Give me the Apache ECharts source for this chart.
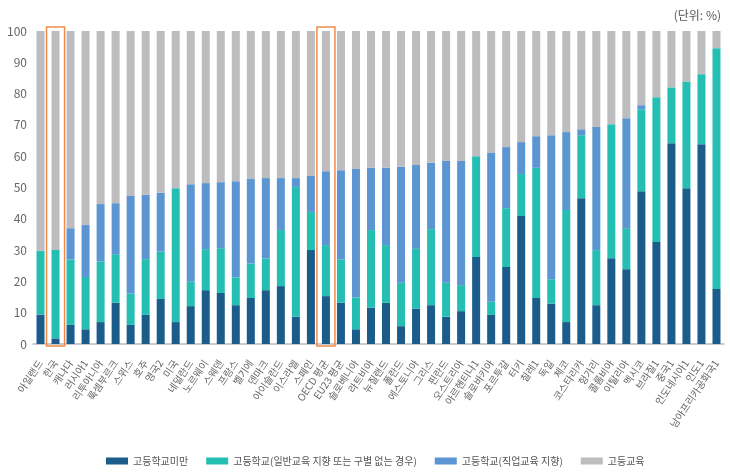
<!DOCTYPE html>
<html>
<head>
<meta charset="utf-8">
<script src="https://cdn.jsdelivr.net/npm/echarts@6/dist/echarts.min.js"></script>
<style>
  html, body { margin: 0; padding: 0; background: #fff; }
  #chart { width: 730px; height: 475px; }
</style>
</head>
<body>
<div id="chart"></div>
<script>
// 국가 목록
var countries = ["아일랜드", "한국", "캐나다", "러시아1", "리투아니아", "룩셈부르크", "스위스", "호주", "영국2", "미국",
  "네덜란드", "노르웨이", "스웨덴", "프랑스", "벨기에", "덴마크", "아이슬란드", "이스라엘", "스페인", "OECD 평균",
  "EU23 평균", "슬로베니아", "라트비아", "뉴질랜드", "폴란드", "에스토니아", "그리스", "핀란드", "오스트리아", "아르헨티나1",
  "슬로바키아", "포르투갈", "터키", "칠레1", "독일", "체코", "코스타리카", "헝가리", "콜롬비아", "이탈리아",
  "멕시코", "브라질1", "중국1", "인도네시아1", "인도1", "남아프리카공화국1"];

// 고등학교미만
var belowUpper = [9.4, 1.8, 6.1, 4.7, 7.0, 13.2, 6.1, 9.3, 14.4, 7.0,
  12.1, 17.2, 16.3, 12.4, 14.7, 17.2, 18.5, 8.7, 30.0, 15.3,
  13.2, 4.7, 11.6, 13.2, 5.7, 11.3, 12.4, 8.7, 10.5, 27.8,
  9.3, 24.6, 40.9, 14.7, 12.9, 7.0, 46.6, 12.4, 27.4, 23.9,
  48.8, 32.6, 64.1, 49.8, 63.8, 17.6];

// 고등학교(일반교육 지향 또는 구별 없는 경우)
var generalUpper = [20.4, 28.2, 20.9, 16.7, 19.4, 15.5, 10.1, 17.8, 15.1, 42.8,
  7.9, 13.1, 14.3, 8.9, 11.0, 10.1, 17.9, 41.5, 12.2, 16.3,
  13.8, 10.2, 24.8, 18.4, 13.9, 19.1, 24.3, 10.9, 8.3, 32.2,
  4.2, 18.8, 13.4, 41.6, 7.8, 35.8, 20.1, 17.6, 42.8, 13.1,
  26.2, 46.2, 17.9, 34.1, 22.4, 76.9];

// 고등학교(직업교육 지향)
var vocationalUpper = [0, 0, 10.0, 16.6, 18.3, 16.3, 31.1, 20.6, 18.8, 0,
  31.0, 21.1, 21.1, 30.7, 27.0, 25.7, 16.6, 2.8, 11.5, 23.6,
  28.5, 41.0, 19.9, 24.7, 37.0, 26.8, 21.2, 38.9, 39.7, 0,
  47.5, 19.5, 10.2, 10.1, 46.0, 24.9, 1.9, 39.3, 0, 35.1,
  1.3, 0, 0, 0, 0, 0];

// 고등교육 = 나머지
var tertiary = belowUpper.map(function (v, i) {
  return +(100 - v - generalUpper[i] - vocationalUpper[i]).toFixed(1);
});

var highlighted = ["한국", "OECD 평균"];

var colors = ["#1b5c8b", "#25beb3", "#5b96d2", "#bdbdc0"];
var labelColor = "#666";
var font = "'Noto Sans CJK KR', 'Noto Sans', sans-serif";

var myChart = echarts.init(document.getElementById("chart"));

function stackBar(name, data) {
  return {
    name: name,
    type: "bar",
    stack: "total",
    barWidth: 8,
    data: data
  };
}

var opts = {
  animation: false,
  color: colors,
  textStyle: { fontFamily: font },
  title: {
    text: "(단위: %)",
    right: 4,
    top: 4,
    textStyle: { fontSize: 12, fontWeight: "normal", color: "#555", fontFamily: font }
  },
  grid: { left: 33, right: 6, top: 31, bottom: 131 },
  legend: {
    bottom: 4,
    left: 101,
    itemWidth: 22,
    itemHeight: 7,
    itemGap: 18,
    icon: "rect",
    textStyle: { fontSize: 10, color: "#555", fontFamily: font },
    data: ["고등학교미만", "고등학교(일반교육 지향 또는 구별 없는 경우)", "고등학교(직업교육 지향)", "고등교육"]
  },
  xAxis: {
    type: "category",
    data: countries,
    axisLine: { lineStyle: { color: "#bbb", width: 1.5 } },
    axisTick: { show: false },
    axisLabel: {
      interval: 0,
      rotate: 56,
      fontSize: 10,
      color: labelColor,
      margin: 17,
      fontFamily: font
    }
  },
  yAxis: {
    type: "value",
    min: 0,
    max: 100,
    interval: 10,
    axisLine: { show: false },
    axisTick: { show: false },
    splitLine: { show: false },
    axisLabel: { fontSize: 12, color: labelColor, margin: 6, fontFamily: font }
  },
  series: [
    stackBar("고등학교미만", belowUpper),
    stackBar("고등학교(일반교육 지향 또는 구별 없는 경우)", generalUpper),
    stackBar("고등학교(직업교육 지향)", vocationalUpper),
    stackBar("고등교육", tertiary),
    {
      // 강조 상자 (한국, OECD 평균)
      type: "custom",
      silent: true,
      z: 5,
      data: highlighted.map(function (c) { return [c]; }),
      renderItem: function (params, api) {
        var top = api.coord([api.value(0), 100]);
        var bottom = api.coord([api.value(0), 0]);
        var w = api.size([1, 0])[0] + 3;
        return {
          type: "rect",
          shape: { x: top[0] - w / 2, y: top[1] - 4, width: w, height: bottom[1] - top[1] + 6 },
          style: { fill: "none", stroke: "#f08a4b", lineWidth: 1.5 }
        };
      }
    }
  ]
};
myChart.setOption(opts);
</script>
</body>
</html>
